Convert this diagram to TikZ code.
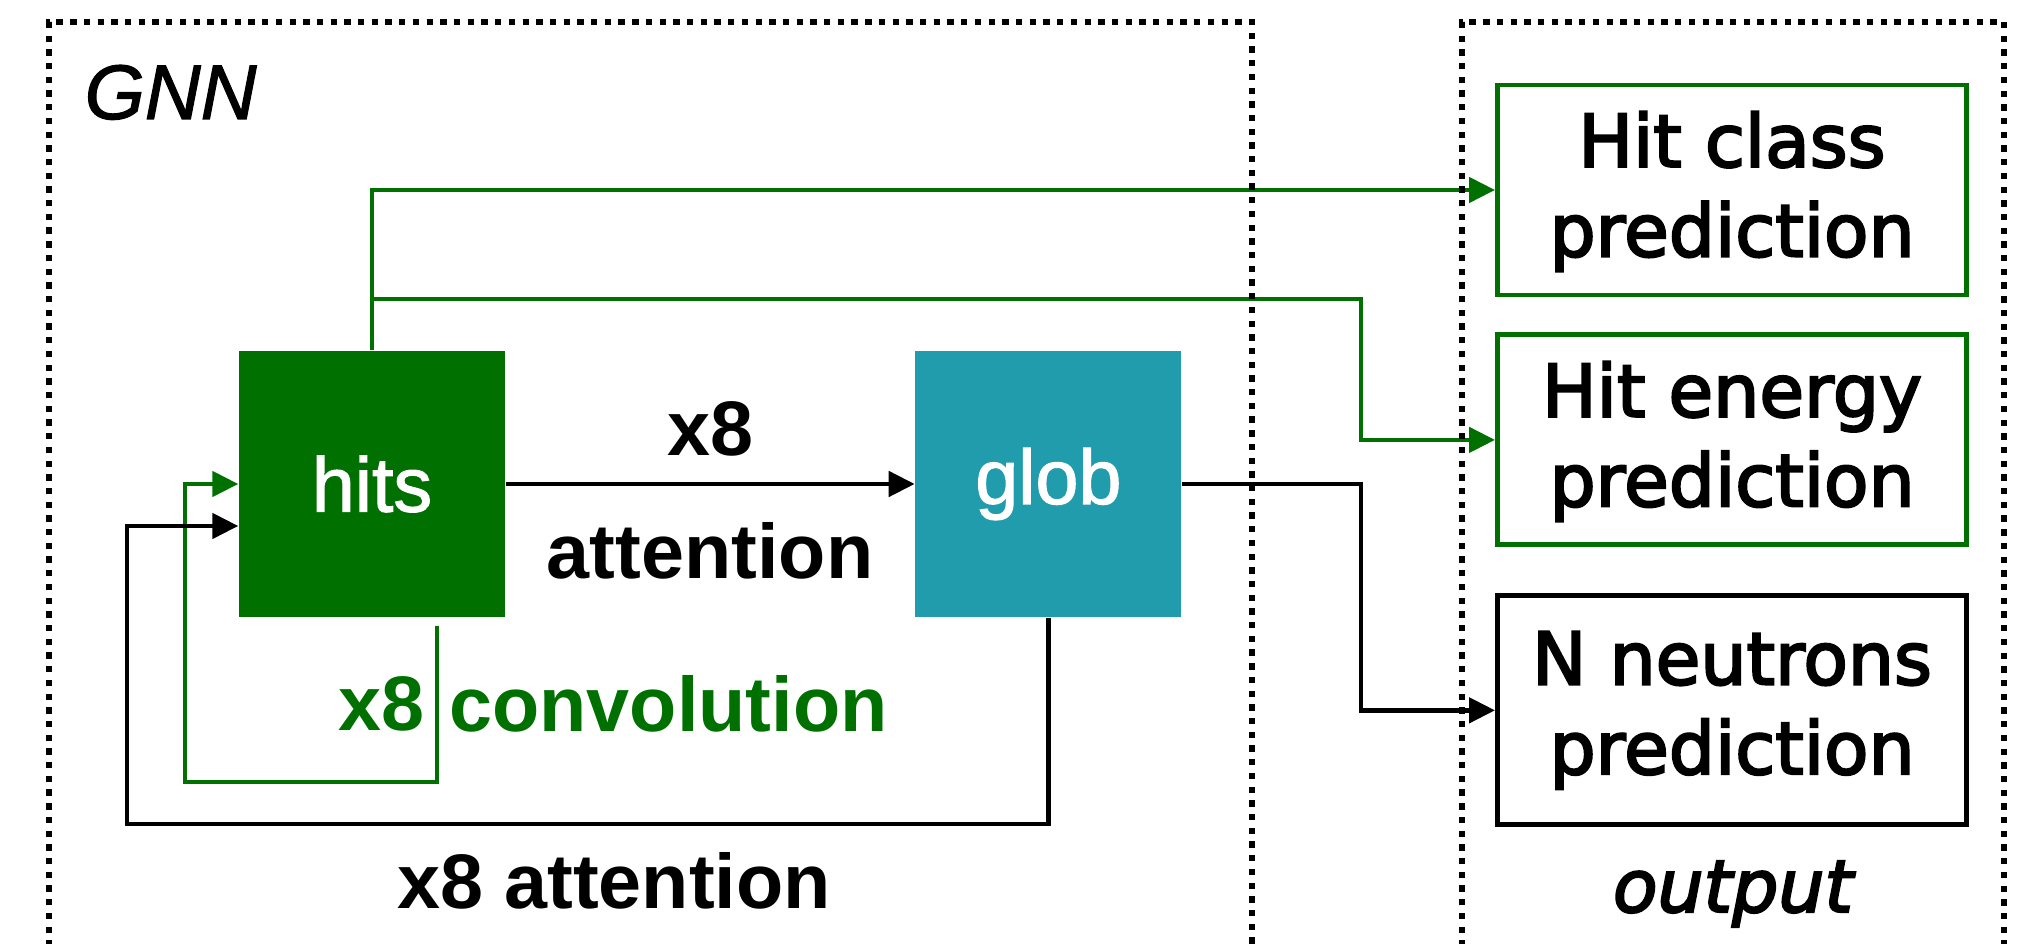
\documentclass[tikz,border=0pt]{standalone}
\usepackage{fontspec}
\setmainfont{Liberation Sans}
\newfontfamily\boxfont[FakeBold=1.5]{Liberation Sans}
\newfontfamily\outfont[FakeBold=3]{DejaVu Sans}
\usetikzlibrary{positioning, arrows.meta}
\definecolor{hitgreen}{RGB}{0,112,0}
\definecolor{globteal}{RGB}{32,156,172}
\tikzstyle{block} = [rectangle, minimum width=2.66cm, minimum height=2.66cm, inner sep=0pt, text=white, font=\boxfont\fontsize{22}{26}\selectfont]
\tikzstyle{outbox} = [rectangle, draw=black, line width=1.4pt, minimum width=4.69cm, minimum height=2.1cm, align=center, font=\outfont\fontsize{20.7}{25.5}\selectfont]
\tikzstyle{tag} = [font=\fontsize{22}{26}\selectfont\bfseries, inner sep=1mm]
\tikzstyle{arrow} = [line width=1.35pt, -{Triangle[length=2.6mm,width=2.5mm]}]
\tikzstyle{frame} = [line width=1.8pt, dash pattern=on 1.8pt off 2.1pt]

\begin{document}
\begin{tikzpicture}
\useasboundingbox (0,0) rectangle (20.28,9.44);

\node (gnn) [anchor=base west, inner sep=0pt, font=\boxfont\fontsize{22}{26}\selectfont\itshape] at (0.84,8.25) {GNN};
\node (hits) [block, fill=hitgreen] at (3.72,4.60) {hits};
\node (glob) [block, fill=globteal, right=4.09cm of hits] {glob};
\node (loops) [tag] at (6.14,0.63) {x8 attention};

\node (hitclass) [outbox, draw=hitgreen, text depth=0.12cm] at (17.32,7.54) {Hit class\\prediction};
\node (hitenergy) [outbox, draw=hitgreen, text depth=0.12cm, below=3.5mm of hitclass] {Hit energy\\prediction};
\node (nneut) [outbox, minimum height=2.29cm, below=4.6mm of hitenergy] {N neutrons\\prediction};
\node (output) [anchor=base, font=\outfont\fontsize{20.7}{25.5}\selectfont\itshape] at (17.33,0.32) {output};

\coordinate (convloop) at (1.85,1.62);
\coordinate (attloop) at (1.27,1.20);
\coordinate (branch) at (13.61,6.45);

% message passing between hits and glob
\draw [arrow] (hits.east) -- node[tag, above=1.5mm] {x8} node[tag, below=2.6mm] {attention} (glob.west);
\draw [arrow, hitgreen] ([xshift=6.5mm,yshift=-0.8mm]hits.south) |- node[tag, pos=.25, left] {x8} node[tag, pos=.25, right] {convolution} (convloop) |- (hits.west);
\draw [arrow] (glob.south) |- (attloop) |- ([yshift=-4.2mm]hits.west);

% heads
\draw [arrow, hitgreen] (hits.north) |- (hitclass.west);
\draw [arrow, hitgreen] (hits.north |- branch) -- (branch) |- (hitenergy.west);
\draw [arrow] (glob.east) -- (glob.east -| branch) |- (nneut.west);

% dotted frames
\draw [frame] (0.49,-0.3) |- (12.52,9.22) -- (12.52,-0.3);
\draw [frame] (14.62,-0.3) |- (20.04,9.22) -- (20.04,-0.3);

\end{tikzpicture}
\end{document}
